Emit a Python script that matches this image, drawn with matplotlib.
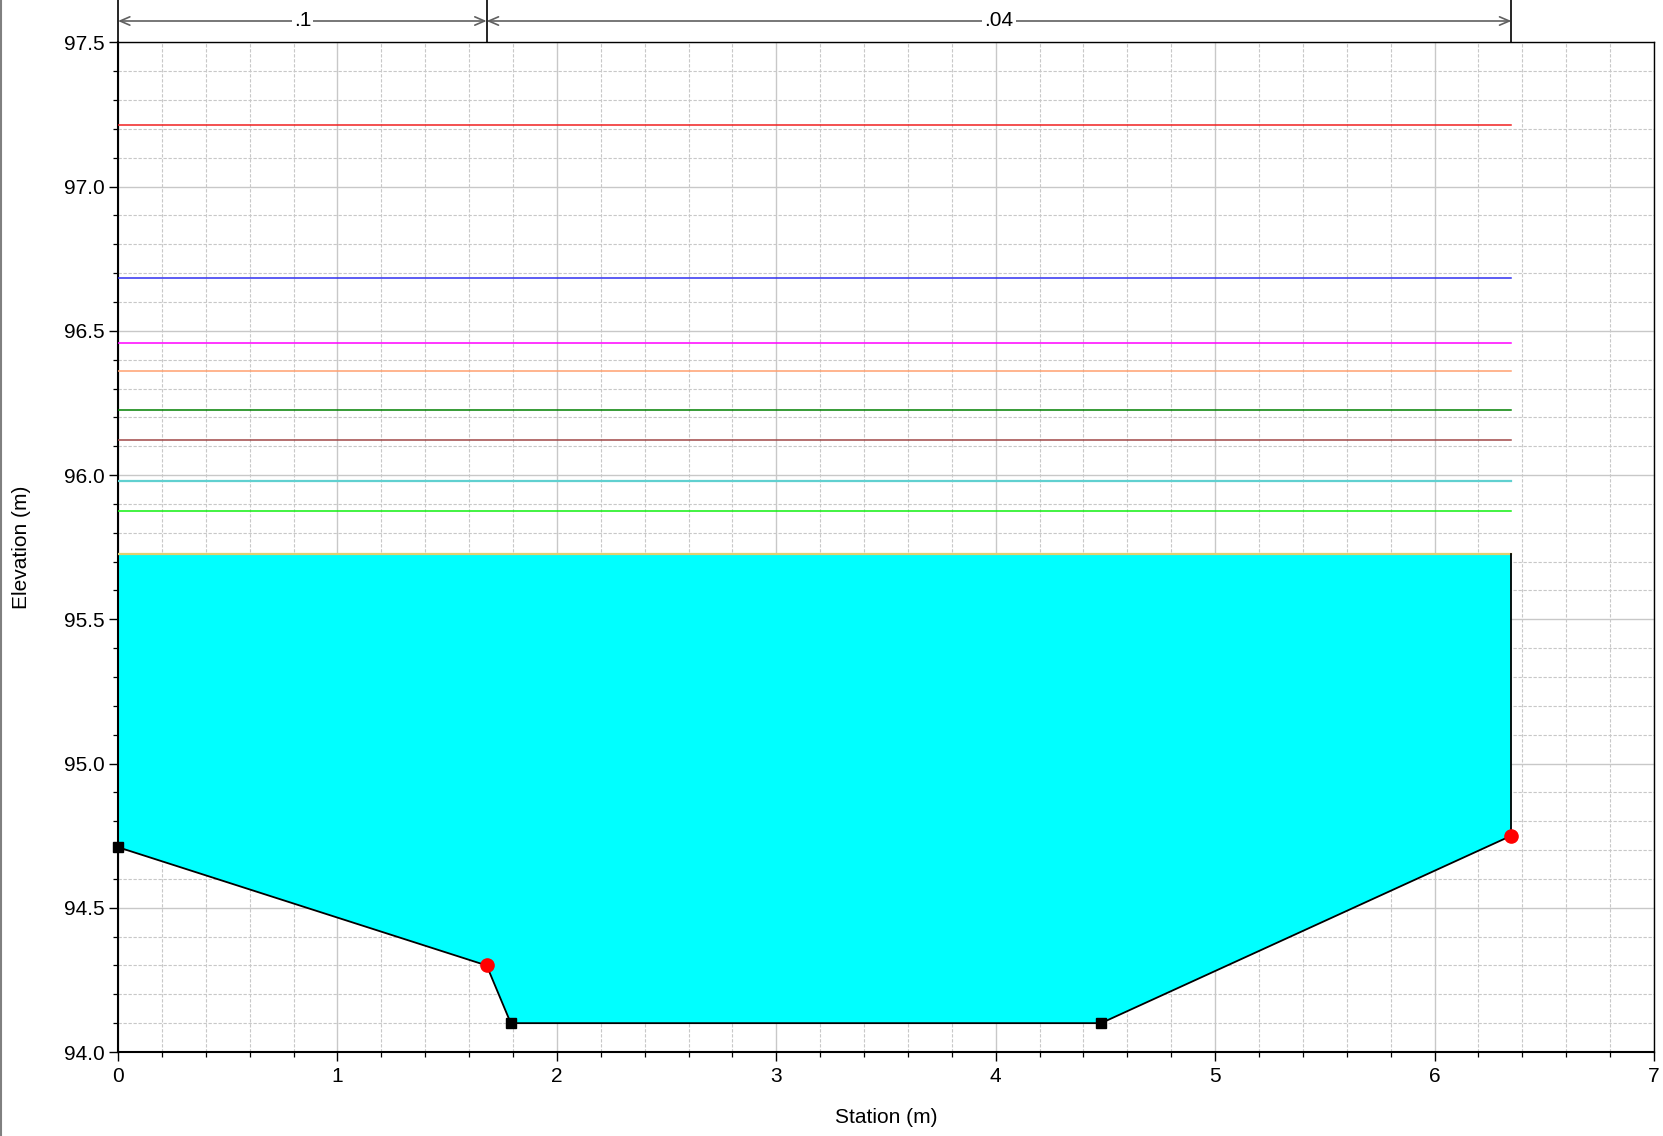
import matplotlib
matplotlib.use("Agg")
import matplotlib.pyplot as plt
from matplotlib.lines import Line2D
from matplotlib.ticker import MultipleLocator, FormatStrFormatter

plt.rcParams['font.family'] = ['Liberation Sans', 'DejaVu Sans']

# Ground profile
ground_x = [0.0, 1.68, 1.79, 4.48, 6.35]
ground_y = [94.71, 94.30, 94.10, 94.10, 94.75]
bank_x = [1.68, 6.35]
bank_y = [94.30, 94.75]
square_x = [0.0, 1.79, 4.48]
square_y = [94.71, 94.10, 94.10]

# Water surfaces (elevation, colour)
ws_elev = [97.215, 96.683, 96.458, 96.362, 96.226, 96.122, 95.98, 95.874, 95.725]
ws_colors = ['#f02020', '#3030f0', '#ff00ff', '#ffa070', '#008000', '#a04848',
             '#60d0d0', '#10f010', '#e0d070']
fill_ws = 95.725

# Manning's n regions
n_bounds = [0.0, 1.68, 6.35]
n_labels = ['.1', '.04']

W, H = 1663, 1136
fig = plt.figure(figsize=(W / 100, H / 100), dpi=100)
left, right, top, bottom = 118, 1654, 42.4, 1052
ax = fig.add_axes([left / W, 1 - bottom / H, (right - left) / W, (bottom - top) / H])

# Water fill
poly_x = [ground_x[0]] + ground_x + [ground_x[-1]]
poly_y = [fill_ws] + ground_y + [fill_ws]
ax.fill(poly_x, poly_y, color='#00ffff', zorder=2, lw=0)

# WS lines
for e, c in zip(ws_elev, ws_colors):
    lw = 1.6 if c in ('#60d0d0', '#e0d070') else 1.1
    ax.plot([ground_x[0], ground_x[-1]], [e, e], color=c, lw=lw, zorder=3)

# Ground
ax.plot(ground_x, ground_y, color='black', lw=1.3, zorder=4)
ax.plot([ground_x[-1], ground_x[-1]], [ground_y[-1], fill_ws], color='black', lw=1.3, zorder=4)
ax.plot(square_x, square_y, ls='none', marker='s', color='black', ms=6.5, zorder=5, clip_on=False)
ax.plot(bank_x, bank_y, ls='none', marker='o', color='#ff0000', ms=9.5, zorder=5, clip_on=False)

ax.set_xlim(0, 7)
ax.set_ylim(94.0, 97.5)
ax.xaxis.set_major_locator(MultipleLocator(1))
ax.xaxis.set_minor_locator(MultipleLocator(0.2))
ax.yaxis.set_major_locator(MultipleLocator(0.5))
ax.yaxis.set_minor_locator(MultipleLocator(0.1))
ax.yaxis.set_major_formatter(FormatStrFormatter('%.1f'))
ax.set_axisbelow(True)
ax.grid(which='major', color='#c8c8c8', lw=1.0, ls='-', zorder=0)
ax.grid(which='minor', color='#c8c8c8', lw=0.8, ls=(0, (3, 1.5)), zorder=0)
ax.tick_params(which='major', direction='out', length=6.5, width=1.0, labelsize=15, pad=3)
ax.tick_params(which='minor', direction='out', length=3.8, width=0.9)
ax.tick_params(axis='x', which='major', pad=4)
for s in ['left', 'bottom']:
    ax.spines[s].set_linewidth(1.5)
for s in ['top', 'right']:
    ax.spines[s].set_linewidth(1.0)

ax.set_xlabel('Station (m)', fontsize=15, labelpad=16)
ax.set_ylabel('Elevation (m)', fontsize=15)
ax.yaxis.set_label_coords(-(left - 31) / (right - left), 0.5)

# Manning's n annotations above plot
ax_h = bottom - top
y_arrow = (bottom - 21) / ax_h
y_top = bottom / ax_h
for xb in n_bounds:
    ax.add_line(Line2D([xb, xb], [1.0, y_top], transform=ax.get_xaxis_transform(),
                       color='black', lw=1.2, clip_on=False))
for i, lab in enumerate(n_labels):
    x0, x1 = n_bounds[i], n_bounds[i + 1]
    ax.annotate('', xy=(x1, y_arrow), xytext=(x0, y_arrow),
                xycoords=('data', 'axes fraction'), textcoords=('data', 'axes fraction'),
                arrowprops=dict(arrowstyle='<->,head_length=0.7,head_width=0.3',
                                color='#606060', lw=1.2, mutation_scale=10,
                                shrinkA=0, shrinkB=0))
    ax.text((x0 + x1) / 2, y_arrow, lab, transform=ax.get_xaxis_transform(),
            ha='center', va='center', fontsize=15,
            bbox=dict(facecolor='white', edgecolor='none', pad=1.5))

# Left figure border
fig.add_artist(Line2D([0.0008, 0.0008], [0, 1], transform=fig.transFigure, color='#808080', lw=1.5))

fig.savefig('out.png', dpi=100)
